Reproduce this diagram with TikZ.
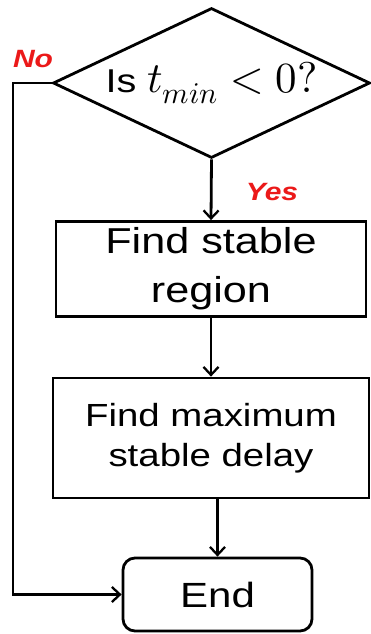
\documentclass[tikz,border=0pt]{standalone}
\usepackage{fontspec}
\usepackage{unicode-math}
\setmainfont[FakeStretch=1.2]{Liberation Sans}
\setmathfont{Latin Modern Math}
\usepackage{tikz}
\usetikzlibrary{shapes.geometric, arrows.meta}
\definecolor{answer}{RGB}{235, 25, 25}

\begin{document}
\begin{tikzpicture}[x=1pt, y=-1pt, line width=2.8pt,
    arr/.style={-{Straight Barb[length=8pt, width=15pt, line width=2.3pt]}},
    stepbox/.style={draw, rectangle, inner sep=0pt, align=center},
    answertext/.style={text=answer, font=\fontsize{25}{28}\selectfont\bfseries\itshape}]
  \useasboundingbox (0, 0) rectangle (371, 634);

  % Decision
  \node [draw, diamond, shape aspect=2.11, inner sep=0pt,
    minimum width=317pt, minimum height=150pt]
    (test) at (211.5, 83) {\fontsize{33}{36}\selectfont Is
      \fontsize{43}{46}\selectfont$t_{min} < 0?$};
  \node [answertext] (no) at (33, 59) {No};
  \node [answertext] (yes) at (272, 192) {Yes};

  % Steps
  \node [stepbox, minimum width=310pt, minimum height=95pt,
    font=\fontsize{36}{49}\selectfont] (region) at (211, 269) {Find stable\\region};
  \node [stepbox, minimum width=316pt, minimum height=120pt,
    font=\fontsize{32}{40}\selectfont] (delay) at (211, 438) {Find maximum\\stable delay};
  \node [stepbox, rounded corners=12pt, minimum width=189pt, minimum height=73pt,
    font=\fontsize{35}{40}\selectfont] (end) at (217.5, 594.5) {End};

  % Arrows
  \draw [arr] (test.south) -- (region.north);
  \draw [arr] (region.south) -- (delay.north);
  \draw [arr] (end.north |- delay.south) -- (end.north);
  \coordinate (turn) at (13, 83);
  \draw [arr] (test.west) -- (turn) |- (end.west);

\end{tikzpicture}
\end{document}
